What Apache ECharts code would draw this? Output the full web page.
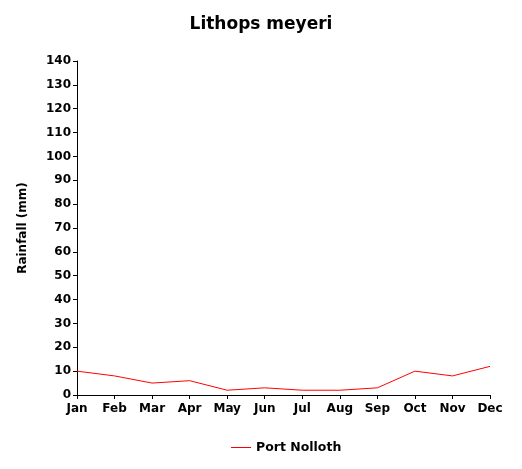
<!DOCTYPE html>
<html>
<head>
<meta charset="utf-8">
<script src="https://cdn.jsdelivr.net/npm/echarts@6/dist/echarts.min.js"></script>
<style>
  html, body { margin: 0; padding: 0; background: #fff; }
  #chart { width: 522px; height: 469px; }
</style>
</head>
<body>
<div id="chart"></div>
<script>
const months = ['Jan', 'Feb', 'Mar', 'Apr', 'May', 'Jun', 'Jul', 'Aug', 'Sep', 'Oct', 'Nov', 'Dec']
const portNolloth = [10, 8, 5, 6, 2, 3, 2, 2, 3, 10, 8, 12]

const labelFont = {
  color: '#000',
  fontFamily: 'DejaVu Sans',
  fontWeight: 'bold',
  fontSize: 12
}

const chart = echarts.init(document.getElementById('chart'))
chart.setOption({
  animation: false,
  title: {
    text: 'Lithops meyeri',
    left: 'center',
    top: 11,
    textStyle: { color: '#000', fontFamily: 'DejaVu Sans', fontWeight: 'bold', fontSize: 17 }
  },
  legend: {
    bottom: 10,
    left: 226,
    icon: 'path://M0,0 L20,0 L20,1 L0,1 Z',
    itemWidth: 20,
    itemHeight: 1,
    itemGap: 8,
    textStyle: Object.assign({}, labelFont, { fontSize: 12.5 }),
    data: ['Port Nolloth']
  },
  grid: { left: 77, right: 32, top: 61, bottom: 74 },
  xAxis: {
    type: 'category',
    data: months,
    boundaryGap: false,
    axisLine: { lineStyle: { color: '#000', width: 1 } },
    axisTick: { show: true, length: 4, lineStyle: { color: '#000' } },
    axisLabel: Object.assign({ margin: 8, interval: 0 }, labelFont),
    splitLine: { show: false }
  },
  yAxis: {
    type: 'value',
    min: 0,
    max: 140,
    interval: 10,
    name: 'Rainfall (mm)',
    nameLocation: 'middle',
    nameGap: 48,
    nameTextStyle: labelFont,
    axisLine: { show: true, lineStyle: { color: '#000', width: 1 } },
    axisTick: { show: true, length: 4, lineStyle: { color: '#000' } },
    axisLabel: Object.assign({ margin: 6 }, labelFont),
    splitLine: { show: false }
  },
  series: [
    {
      name: 'Port Nolloth',
      type: 'line',
      data: portNolloth,
      symbol: 'none',
      color: '#ff0000',
      lineStyle: { width: 1, color: '#ff0000' }
    }
  ]
})
</script>
</body>
</html>
